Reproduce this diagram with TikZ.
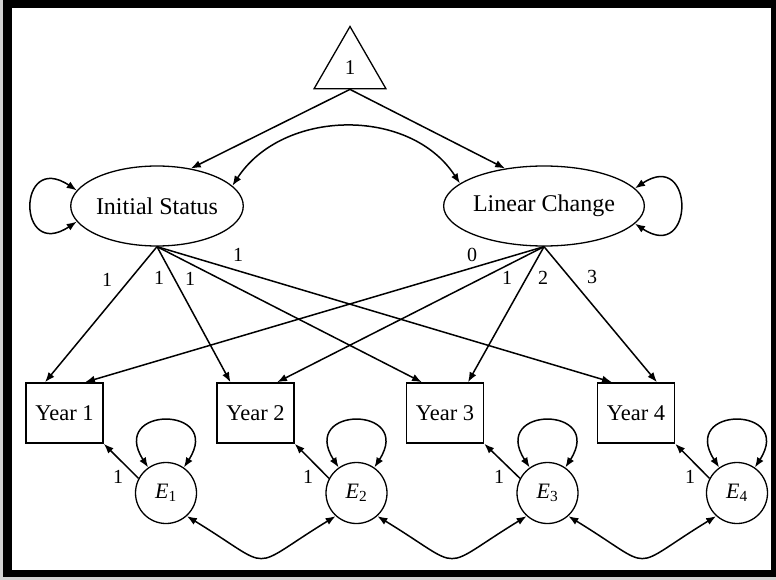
\documentclass[tikz,border=0pt]{standalone}
\usepackage{fontspec}
\setmainfont{Liberation Serif}
\usetikzlibrary{shapes.geometric,arrows.meta}
\begin{document}
\begin{tikzpicture}[x=1pt,y=1pt,
  every node/.style={inner sep=0pt},
  tip/.style={-{Latex[length=10pt,width=7.5pt]}},
  both/.style={{Latex[length=10pt,width=7.5pt]}-{Latex[length=10pt,width=7.5pt]}},
  link/.style={line width=1.5pt},
  factor/.style={draw, line width=1.3pt, ellipse, minimum width=161pt, minimum height=80pt, font=\fontsize{24}{28}\selectfont},
  yearbox/.style={draw, line width=1.5pt, rectangle, minimum width=77pt, minimum height=60pt, font=\fontsize{22.5}{26}\selectfont},
  resid/.style={draw, line width=1.3pt, circle, minimum size=61pt, font=\fontsize{22}{26}\selectfont},
  coef/.style={font=\fontsize{20}{24}\selectfont},
  const/.style={draw, line width=1.3pt, regular polygon, regular polygon sides=3, minimum size=83pt, font=\fontsize{21}{24}\selectfont}
]
% frame
\fill[gray!35] (0,0) rectangle (776,-580);
\fill[black] (3,0) rectangle (776,-577);
\fill[white] (12,-8) rectangle (771,-570);
\useasboundingbox (0,0) rectangle (776,-580);

% constant, growth factors, observed years, residuals
\node[const] (one) at (350,-68) {1};
\node[factor] (IS) at (157,-206) {Initial Status};
\node[factor] (LC) at (544,-206) {Linear Change};
\node[yearbox] (Y1) at (64.5,-413) {Year 1};
\node[yearbox] (Y2) at (255.5,-413) {Year 2};
\node[yearbox] (Y3) at (445,-413) {Year 3};
\node[yearbox] (Y4) at (636,-413) {Year 4};
\node[resid] (E1) at (166,-493) {\textit{E}\textsubscript{1}};
\node[resid] (E2) at (356.5,-493) {\textit{E}\textsubscript{2}};
\node[resid] (E3) at (547.5,-493) {\textit{E}\textsubscript{3}};
\node[resid] (E4) at (737,-493) {\textit{E}\textsubscript{4}};

% means
\draw[link,tip] (one.side 2) -- (IS.48);
\draw[link,tip] (one.side 2) -- (LC.136);
% factor covariance and variances
\draw[link,both] (IS.15) .. controls +(50,77) and +(-50,77) .. (LC.165);
\draw[link,both] (IS.169) .. controls +(-60,40) and +(-60,-40) .. (IS.191);
\draw[link,both] (LC.11) .. controls +(60,40) and +(60,-40) .. (LC.-11);

% loadings of initial status
\draw[link,tip] (IS.south) -- ([xshift=-19.5pt]Y1.north);
\draw[link,tip] (IS.south) -- ([xshift=-25pt]Y2.north);
\draw[link,tip] (IS.south) -- ([xshift=-23pt]Y3.north);
\draw[link,tip] (IS.south) -- ([xshift=-24pt]Y4.north);
% loadings of linear change
\draw[link,tip] (LC.south) -- ([xshift=20.5pt]Y1.north);
\draw[link,tip] (LC.south) -- ([xshift=21.5pt]Y2.north);
\draw[link,tip] (LC.south) -- ([xshift=23pt]Y3.north);
\draw[link,tip] (LC.south) -- ([xshift=21pt]Y4.north);

\node[coef] (a1) at (107,-280) {1};
\node[coef] (a2) at (159,-278) {1};
\node[coef] (a3) at (190,-279) {1};
\node[coef] (a4) at (238,-255) {1};
\node[coef] (b1) at (472,-255) {0};
\node[coef] (b2) at (507,-278) {1};
\node[coef] (b3) at (543,-278) {2};
\node[coef] (b4) at (592,-277) {3};

% residual paths, variances and covariances
\foreach \i/\x in {1/118,2/308,3/499,4/690}{
  \draw[link,tip] (E\i.152) -- (Y\i.south east);
  \draw[link,both] (E\i.125) .. controls +(-40,62) and +(40,62) .. (E\i.55);
  \node[coef] (c\i) at (\x,-477) {1};
}
\draw[link,both] (E1.-48) .. controls +(90,-55) and +(-90,-55) .. (E2.-132);
\draw[link,both] (E2.-48) .. controls +(90,-55) and +(-90,-55) .. (E3.-132);
\draw[link,both] (E3.-48) .. controls +(90,-55) and +(-90,-55) .. (E4.-132);
\end{tikzpicture}
\end{document}
